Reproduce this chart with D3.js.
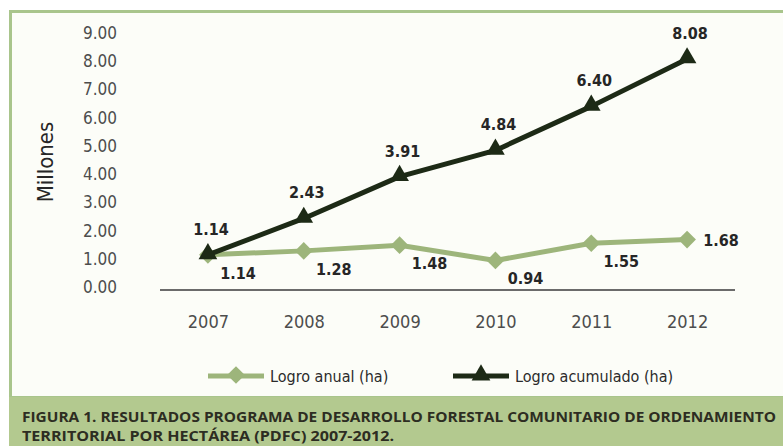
<!DOCTYPE html>
<html>
<head>
<meta charset="utf-8">
<script src="https://cdn.jsdelivr.net/npm/d3@7"></script>
<style>
  html, body { margin: 0; padding: 0; background: #ffffff; }
  svg { display: block; }
  .narrow { font-family: 'DejaVu Sans', sans-serif; font-stretch: condensed; }
</style>
</head>
<body>
<svg id="chart" width="783" height="446"></svg>
<script>
// Hectares (millions) under the PDFC programme, 2007-2012
const years = ["2007", "2008", "2009", "2010", "2011", "2012"];
const annual = [1.14, 1.28, 1.48, 0.94, 1.55, 1.68];
const cumulative = [1.14, 2.43, 3.91, 4.84, 6.40, 8.08];
const yTicks = [0, 1, 2, 3, 4, 5, 6, 7, 8, 9];
const seriesNames = ["Logro anual (ha)", "Logro acumulado (ha)"];
const yTitle = "Millones";
const captionLines = [
  "FIGURA 1. RESULTADOS PROGRAMA DE DESARROLLO FORESTAL COMUNITARIO DE ORDENAMIENTO",
  "TERRITORIAL POR HECTÁREA (PDFC) 2007-2012."
];

const LIGHT = "#9db57b";
const DARK = "#1d2a16";

const svg = d3.select("#chart");

// Frame and caption band
svg.append("rect").attr("x", 10.5).attr("y", 11.5).attr("width", 780).attr("height", 386)
  .attr("fill", "#fcfdf8").attr("stroke", "#a9c58c").attr("stroke-width", 3);
svg.append("rect").attr("x", 9).attr("y", 397).attr("width", 774).attr("height", 49)
  .attr("fill", "#b3c98f");

const x = d3.scalePoint().domain(years).range([160, 735]).padding(0.5);
const y = d3.scaleLinear().domain([0, 9]).range([287, 33]);

// Y axis (labels only)
const yAxis = svg.append("g").attr("transform", "translate(117,0)")
  .call(d3.axisLeft(y).tickValues(yTicks).tickFormat(d3.format(".2f")).tickSize(0).tickPadding(0));
yAxis.select(".domain").remove();
yAxis.selectAll("text").attr("class", "narrow").attr("font-size", 17).attr("fill", "#4d4d4d");

// X axis baseline and year labels
const xAxis = svg.append("g").attr("transform", "translate(0,290)")
  .call(d3.axisBottom(x).tickSize(0).tickPadding(25));
xAxis.select(".domain").attr("stroke", "#6b6b6b").attr("stroke-width", 2)
  .attr("d", "M160,0H735");
xAxis.selectAll("text").attr("class", "narrow").attr("font-size", 18).attr("fill", "#4d4d4d");

// Axis title
svg.append("text").attr("class", "narrow").attr("transform", "translate(53,162) rotate(-90)")
  .attr("text-anchor", "middle").attr("font-size", 22)
  .attr("fill", "#262626").text(yTitle);

const line = d3.line().x((d, i) => x(years[i])).y(d => y(d));
const diamond = d3.symbol().type(d3.symbolDiamond2).size(200);
const triangle = d3.symbol().type(d3.symbolTriangle2).size(250);

// Annual series
svg.append("path").datum(annual).attr("d", line).attr("fill", "none")
  .attr("stroke", LIGHT).attr("stroke-width", 5).attr("stroke-linejoin", "round");
svg.append("g").selectAll("path").data(annual).join("path")
  .attr("d", diamond).attr("fill", LIGHT)
  .attr("transform", (d, i) => `translate(${x(years[i])},${y(d)})`);

// Cumulative series
svg.append("path").datum(cumulative).attr("d", line).attr("fill", "none")
  .attr("stroke", DARK).attr("stroke-width", 5).attr("stroke-linejoin", "round");
svg.append("g").selectAll("path").data(cumulative).join("path")
  .attr("d", triangle).attr("fill", DARK)
  .attr("transform", (d, i) => `translate(${x(years[i])},${y(d) - 1})`);

// Value labels
svg.append("g").selectAll("text").data(cumulative).join("text")
  .attr("class", "narrow")
  .attr("x", (d, i) => x(years[i]) + 3)
  .attr("y", d => y(d) - 20)
  .attr("text-anchor", "middle").attr("font-weight", "bold")
  .attr("font-size", 16).attr("fill", "#262626")
  .text(d => d3.format(".2f")(d));

const last = annual.length - 1;
svg.append("g").selectAll("text").data(annual).join("text")
  .attr("class", "narrow")
  .attr("x", (d, i) => x(years[i]) + (i === last ? 34 : 30))
  .attr("y", (d, i) => y(d) + (i === last ? 6 : 24))
  .attr("text-anchor", "middle").attr("font-weight", "bold")
  .attr("font-size", 16).attr("fill", "#262626")
  .text(d => d3.format(".2f")(d));

// Legend
const legend = [
  { name: seriesNames[0], color: LIGHT, sym: diamond, x0: 208 },
  { name: seriesNames[1], color: DARK, sym: triangle, x0: 453 }
];
const lg = svg.append("g").selectAll("g").data(legend).join("g")
  .attr("transform", d => `translate(${d.x0},376)`);
lg.append("line").attr("x1", 0).attr("x2", 56).attr("stroke", d => d.color).attr("stroke-width", 5);
lg.append("path").attr("d", d => d.sym()).attr("fill", d => d.color)
  .attr("transform", "translate(28,-1)");
lg.append("text").attr("class", "narrow").attr("x", 62).attr("y", 6)
  .attr("font-size", 16).attr("fill", "#2b2b2b").text(d => d.name);

// Caption
svg.append("g").selectAll("text").data(captionLines).join("text")
  .attr("x", 22).attr("y", (d, i) => 422 + i * 19)
  .attr("font-family", "'Open Sans', 'Noto Sans', sans-serif").attr("font-weight", "bold")
  .attr("font-size", 15).attr("fill", "#2d2d22")
  .attr("textLength", (d, i) => i === 0 ? 754 : 372)
  .attr("lengthAdjust", "spacingAndGlyphs")
  .text(d => d);
</script>
</body>
</html>
